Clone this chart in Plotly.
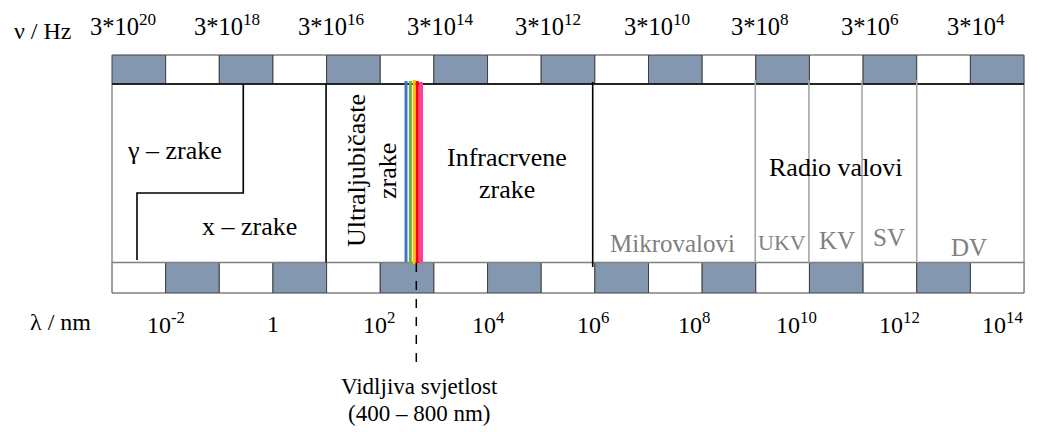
import plotly.graph_objects as go

# ---------------- data ----------------
n_cells = 17
freq_exponents = [20, 18, 16, 14, 12, 10, 8, 6, 4]
wavelength_labels = ["10<sup>-2</sup>", "1", "10<sup>2</sup>", "10<sup>4</sup>", "10<sup>6</sup>",
                     "10<sup>8</sup>", "10<sup>10</sup>", "10<sup>12</sup>", "10<sup>14</sup>"]
radio_bands = ["UKV", "KV", "SV", "DV"]
visible_colors = ["#4472C4", "#70AD47", "#FFC000", "#FF0000", "#FF3F9F"]

# ---------------- layout constants (cell units / pixel rows) ----------------
CELL_PX = 53.65
LEFT_PX = 112
W, H = 1046, 432
FONT = "Liberation Serif, Times New Roman, serif"
GREY_FILL = "#8497B0"

Y_TOP_BAND = (55, 84)
Y_BOX = (84, 262.5)
Y_BOT_BAND = (262.5, 293)

uv_x = 3.99
micro_x = 8.96
radio_lines_x = [11.99, 12.99, 13.98, 15.0]
zig_x = (2.447, 0.466)
zig_y = 193
visible_x = [5.48, 5.561, 5.633, 5.69, 5.76]
visible_w = [3, 3, 3, 3, 4]
dash_x = 5.672

freq_label_px = [123, 227, 331, 440, 548, 657, 760, 870, 976]
wl_label_x = [1.0, 3.0, 4.98, 7.01, 8.97, 10.85, 12.75, 14.67, 16.59]

x_range = [-LEFT_PX / CELL_PX, (W - LEFT_PX) / CELL_PX]

shapes = []
# bands of cells
for i in range(n_cells):
    shapes.append(dict(type="rect", x0=i, x1=i + 1, y0=Y_TOP_BAND[0], y1=Y_TOP_BAND[1],
                       fillcolor=GREY_FILL if i % 2 == 0 else "white",
                       line=dict(color="#404040", width=1), layer="above"))
    shapes.append(dict(type="rect", x0=i, x1=i + 1, y0=Y_BOT_BAND[0], y1=Y_BOT_BAND[1],
                       fillcolor=GREY_FILL if i % 2 == 1 else "white",
                       line=dict(color="#404040", width=1), layer="above"))
# main box
shapes.append(dict(type="rect", x0=0, x1=n_cells, y0=Y_BOX[0], y1=Y_BOX[1],
                   fillcolor="white", line=dict(color="#7F7F7F", width=1.3)))
shapes.append(dict(type="line", x0=0, x1=n_cells, y0=Y_BOX[0], y1=Y_BOX[0],
                   line=dict(color="black", width=1.3)))
# gamma / x zigzag
shapes.append(dict(type="path",
                   path=f"M {zig_x[0]} {Y_BOX[0]} L {zig_x[0]} {zig_y} L {zig_x[1]} {zig_y} L {zig_x[1]} 260",
                   line=dict(color="black", width=1.6)))
# UV start
shapes.append(dict(type="line", x0=uv_x, x1=uv_x, y0=Y_BOX[0], y1=Y_BOX[1],
                   line=dict(color="black", width=1.6)))
# microwave start
shapes.append(dict(type="line", x0=micro_x, x1=micro_x, y0=82, y1=267,
                   line=dict(color="black", width=1.6)))
# radio subdivisions
for rx in radio_lines_x:
    shapes.append(dict(type="line", x0=rx, x1=rx, y0=80, y1=Y_BOX[1],
                       line=dict(color="#A6A6A6", width=1.6)))
# visible light
tops = [81, 81, 80, 81, 82]
bots = [262, 265.5, 264, 263, 263]
for vx, c, w, t, b in zip(visible_x, visible_colors, visible_w, tops, bots):
    shapes.append(dict(type="line", x0=vx, x1=vx, y0=t, y1=b,
                       line=dict(color=c, width=w), layer="above"))
shapes.append(dict(type="line", x0=dash_x, x1=dash_x, y0=263, y1=367,
                   line=dict(color="black", width=1.5, dash="dash"), layer="above"))

ann = []


def txt(x, y, s, size=24, color="black", angle=0):
    ann.append(dict(x=x, y=y, text=s, showarrow=False, xref="x", yref="y",
                    xanchor="center", yanchor="middle", textangle=angle,
                    font=dict(family=FONT, size=size, color=color)))


def px2u(p):
    return (p - LEFT_PX) / CELL_PX


txt(px2u(43), 31, "ν / Hz")
for xp, e in zip(freq_label_px, freq_exponents):
    txt(px2u(xp), 25, f"3*10<sup>{e}</sup>", size=24.5)
txt(px2u(60), 322, "λ / nm")
for xl, s in zip(wl_label_x, wavelength_labels):
    txt(xl, 323 if "sup" in s else 324, s)

txt(px2u(174), 150, "γ – zrake", size=26)
txt(px2u(249), 226, "x – zrake", size=26)
txt(px2u(356), 171, "Ultraljubičaste", size=26, angle=-90)
txt(px2u(387), 171, "zrake", size=26, angle=-90)
txt(px2u(507), 157, "Infracrvene", size=26)
txt(px2u(507), 189, "zrake", size=26)
txt(px2u(836), 167, "Radio valovi", size=26)
txt(px2u(672), 243, "Mikrovalovi", size=25, color="#808080")
band_x = [782, 837, 889, 969]
band_y = [242, 240, 237, 247]
band_s = [22, 25, 25, 25]
for bx, by, bs, name in zip(band_x, band_y, band_s, radio_bands):
    txt(px2u(bx), by, name, size=bs, color="#808080")
txt(px2u(419), 386, "Vidljiva svjetlost", size=23)
txt(px2u(419), 413, "(400 – 800 nm)", size=23)

fig = go.Figure()
fig.add_trace(go.Scatter(x=[0], y=[0], mode="markers", marker=dict(opacity=0), hoverinfo="skip",
                         showlegend=False))
fig.update_layout(
    width=W, height=H, margin=dict(l=0, r=0, t=0, b=0),
    paper_bgcolor="white", plot_bgcolor="white",
    xaxis=dict(range=x_range, visible=False, fixedrange=True),
    yaxis=dict(range=[H, 0], visible=False, fixedrange=True),
    shapes=shapes, annotations=ann, showlegend=False,
)
fig.write_html("out.html", config=dict(displayModeBar=False),
               post_script="document.body.style.margin='0';document.body.style.overflow='hidden';")
